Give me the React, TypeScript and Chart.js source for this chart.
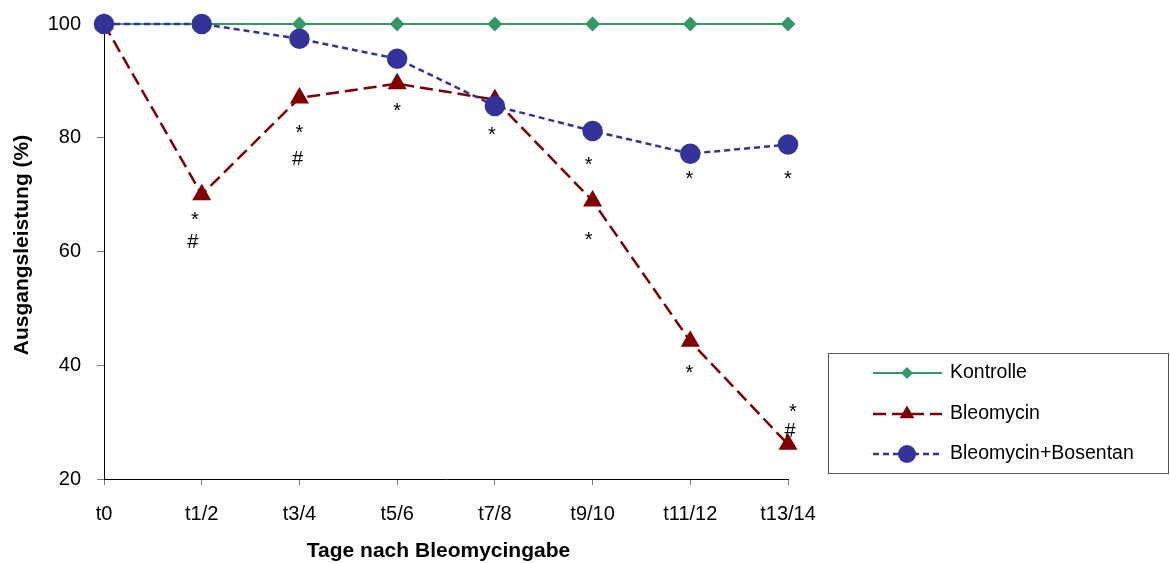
import React, { useEffect, useRef } from 'react';
import { Chart, registerables } from 'chart.js';

Chart.register(...registerables);

const categories = ['t0', 't1/2', 't3/4', 't5/6', 't7/8', 't9/10', 't11/12', 't13/14'];
const kontrolle = [100, 100, 100, 100, 100, 100, 100, 100];
const bleomycin = [100, 70, 87, 89.5, 86.7, 68.9, 44.2, 26.1];
const bosentan = [100, 100, 97.4, 93.9, 85.6, 81.2, 77.2, 78.8];

const yTicks = [20, 40, 60, 80, 100];

// significance marks: [text, category position, value position]
const marks: [string, number, number][] = [
  ['*', 0.93, 66.3],
  ['#', 0.91, 61.9],
  ['*', 2.0, 81.6],
  ['#', 1.98, 76.5],
  ['*', 3.0, 85.4],
  ['*', 3.97, 81.2],
  ['*', 4.96, 76.0],
  ['*', 4.96, 62.8],
  ['*', 5.99, 73.5],
  ['*', 5.99, 39.3],
  ['*', 7.0, 73.5],
  ['*', 7.05, 32.5],
  ['#', 7.02, 28.6],
];

const xTitle = 'Tage nach Bleomycingabe';
const yTitle = 'Ausgangsleistung (%)';

const FONT = '"Liberation Sans", Arial, Helvetica, sans-serif';
const GREEN = '#339966';
const RED = '#800000';
const BLUE = '#333399';

function drawMarker(ctx: CanvasRenderingContext2D, style: string, x: number, y: number, r: number, color: string) {
  ctx.save();
  ctx.fillStyle = color;
  ctx.setLineDash([]);
  ctx.beginPath();
  if (style === 'circle') {
    ctx.arc(x, y, r, 0, Math.PI * 2);
  } else if (style === 'triangle') {
    ctx.moveTo(x, y - r);
    ctx.lineTo(x + r * Math.cos(Math.PI / 6), y + r / 2);
    ctx.lineTo(x - r * Math.cos(Math.PI / 6), y + r / 2);
    ctx.closePath();
  } else {
    ctx.moveTo(x, y - r);
    ctx.lineTo(x + r, y);
    ctx.lineTo(x, y + r);
    ctx.lineTo(x - r, y);
    ctx.closePath();
  }
  ctx.fill();
  ctx.restore();
}

const overlayPlugin = {
  id: 'overlay',
  afterDraw(chart: any) {
    const { ctx, scales } = chart;
    const xs = scales.x;
    const ys = scales.y;
    ctx.save();
    // significance marks
    ctx.fillStyle = '#000';
    ctx.font = `20px ${FONT}`;
    ctx.textAlign = 'center';
    ctx.textBaseline = 'alphabetic';
    for (const [t, cx, v] of marks) {
      const px = xs.getPixelForValue(cx);
      const py = ys.getPixelForValue(v);
      const m = ctx.measureText(t);
      const off = (m.actualBoundingBoxAscent - m.actualBoundingBoxDescent) / 2;
      ctx.fillText(t, px, py + off);
    }
    // axis titles
    ctx.font = `bold 21px ${FONT}`;
    ctx.textBaseline = 'middle';
    ctx.fillText(xTitle, 438.5, 551);
    ctx.save();
    ctx.translate(22.5, 245);
    ctx.rotate(-Math.PI / 2);
    ctx.fillText(yTitle, 0, 0);
    ctx.restore();

    // legend
    ctx.strokeStyle = '#555';
    ctx.lineWidth = 1;
    ctx.setLineDash([]);
    ctx.strokeRect(828.5, 353.5, 340, 120);
    const rows = [373, 414, 454];
    const order = [0, 1, 2];
    order.forEach((di, i) => {
      const ds = chart.data.datasets[di];
      const y = rows[i];
      ctx.save();
      ctx.strokeStyle = ds.borderColor;
      ctx.lineWidth = ds.borderWidth;
      ctx.setLineDash(ds.borderDash || []);
      ctx.beginPath();
      ctx.moveTo(873, y);
      ctx.lineTo(942, y);
      ctx.stroke();
      ctx.restore();
      drawMarker(ctx, ds.pointStyle, 907, y, ds.pointRadius, ds.pointBackgroundColor);
      ctx.fillStyle = '#000';
      ctx.font = `19.5px ${FONT}`;
      ctx.textAlign = 'left';
      ctx.textBaseline = 'middle';
      ctx.fillText(ds.label, 950, y);
    });
    ctx.restore();
  },
};

export default function App() {
  const ref = useRef<HTMLCanvasElement>(null);
  useEffect(() => {
    document.body.style.margin = '0';
    const canvas = ref.current;
    if (!canvas) return;
    const chart = new Chart(canvas, {
      type: 'line',
      data: {
        labels: categories,
        datasets: [
          {
            label: 'Kontrolle',
            data: kontrolle,
            borderColor: GREEN,
            backgroundColor: GREEN,
            pointBackgroundColor: GREEN,
            pointBorderColor: GREEN,
            pointStyle: 'rectRot',
            pointRadius: 6,
            borderWidth: 2,
            borderDash: [],
            order: 3,
            clip: false,
          } as any,
          {
            label: 'Bleomycin',
            data: bleomycin,
            borderColor: RED,
            backgroundColor: RED,
            pointBackgroundColor: RED,
            pointBorderColor: RED,
            pointStyle: 'triangle',
            pointRadius: 8.5,
            borderWidth: 2.5,
            borderDash: [13, 6],
            order: 2,
            clip: false,
          } as any,
          {
            label: 'Bleomycin+Bosentan',
            data: bosentan,
            borderColor: BLUE,
            backgroundColor: BLUE,
            pointBackgroundColor: BLUE,
            pointBorderColor: BLUE,
            pointStyle: 'circle',
            pointRadius: 9,
            borderWidth: 2.5,
            borderDash: [6, 4],
            order: 1,
            clip: false,
          } as any,
        ],
      },
      options: {
        animation: false,
        responsive: false,
        events: [],
        layout: { padding: { top: 24, right: 382, left: 0, bottom: 0 } },
        plugins: { legend: { display: false }, tooltip: { enabled: false } },
        elements: { line: { tension: 0 }, point: { borderWidth: 1 } },
        scales: {
          x: {
            type: 'category',
            offset: false,
            grid: { drawOnChartArea: false, drawTicks: true, tickLength: 6, color: '#777' },
            border: { color: '#000', width: 1 },
            ticks: { color: '#000', font: { family: FONT, size: 20 }, padding: 17, maxRotation: 0, autoSkip: false },
            afterFit: (s: any) => { s.height = 84; s.paddingLeft = 0; s.paddingRight = 0; },
          },
          y: {
            min: 20,
            max: 100,
            afterBuildTicks: (s: any) => { s.ticks = yTicks.map((v) => ({ value: v })); },
            grid: { drawOnChartArea: false, drawTicks: true, tickLength: 7, color: '#777' },
            border: { color: '#000', width: 1 },
            ticks: { color: '#000', font: { family: FONT, size: 20 }, padding: 16 },
            afterFit: (s: any) => { s.width = 104; s.paddingTop = 0; s.paddingBottom = 0; },
          },
        },
      },
      plugins: [overlayPlugin],
    });
    return () => chart.destroy();
  }, []);
  return (
    <div style={{ width: 1170, height: 563 }}>
      <canvas ref={ref} width={1170} height={563} style={{ display: 'block' }} />
    </div>
  );
}
